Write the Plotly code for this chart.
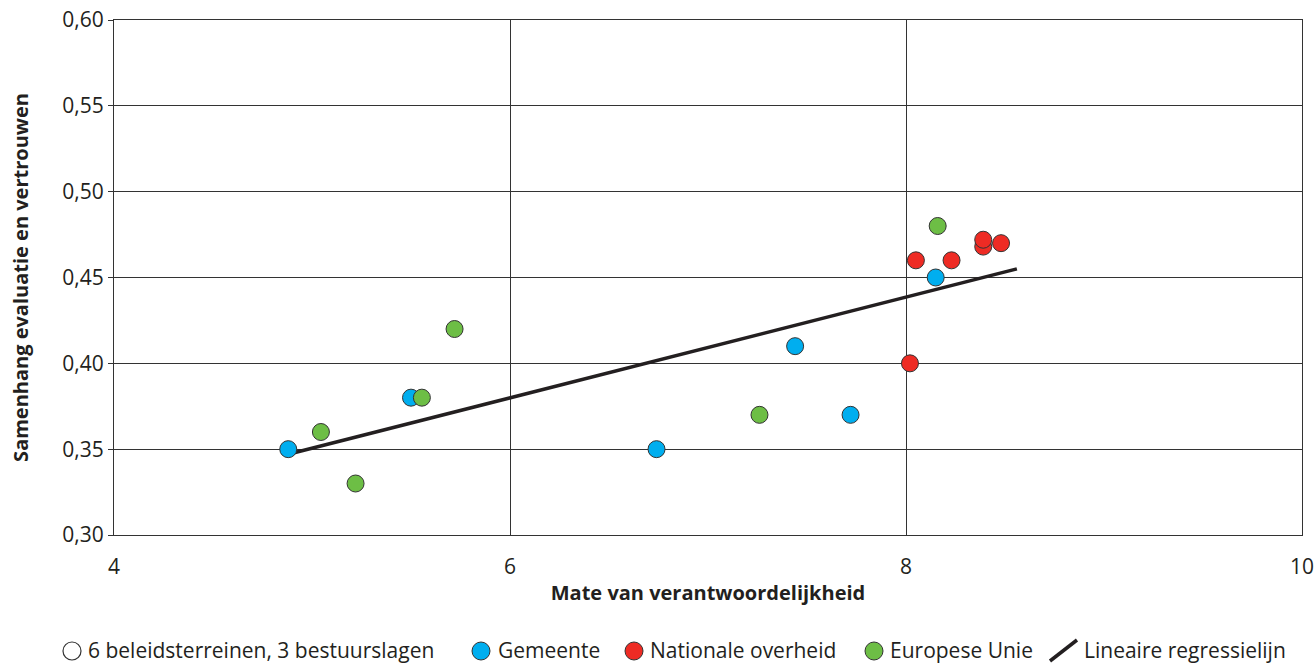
import plotly.graph_objects as go

# Data
gem_x = [4.88, 5.50, 6.74, 7.44, 7.72, 8.15]
gem_y = [0.35, 0.38, 0.35, 0.41, 0.37, 0.45]
nat_x = [8.02, 8.05, 8.23, 8.39, 8.39, 8.48]
nat_y = [0.40, 0.46, 0.46, 0.468, 0.472, 0.47]
eu_x = [5.045, 5.22, 5.555, 5.72, 7.26, 8.16]
eu_y = [0.36, 0.33, 0.38, 0.42, 0.37, 0.48]
reg_x = [4.88, 8.56]
reg_y = [0.347, 0.455]

x_ticks = [4, 6, 8, 10]
y_ticks = [0.30, 0.35, 0.40, 0.45, 0.50, 0.55, 0.60]
y_labels = ["0,30", "0,35", "0,40", "0,45", "0,50", "0,55", "0,60"]

legend_labels = ["6 beleidsterreinen, 3 bestuurslagen", "Gemeente", "Nationale overheid",
                 "Europese Unie", "Lineaire regressielijn"]

FONT = "Open Sans"
C_GEM, C_NAT, C_EU = "#00AEEF", "#EE2B24", "#6DBE45"
mk_line = dict(color="#333333", width=1)

fig = go.Figure()
fig.add_trace(go.Scatter(x=reg_x, y=reg_y, mode="lines", name=legend_labels[4],
                         line=dict(color="#231f20", width=3.5)))
fig.add_trace(go.Scatter(x=gem_x, y=gem_y, mode="markers", name=legend_labels[1],
                         marker=dict(size=17, color=C_GEM, line=mk_line)))
fig.add_trace(go.Scatter(x=nat_x, y=nat_y, mode="markers", name=legend_labels[2],
                         marker=dict(size=17, color=C_NAT, line=mk_line)))
fig.add_trace(go.Scatter(x=eu_x, y=eu_y, mode="markers", name=legend_labels[3],
                         marker=dict(size=17, color=C_EU, line=mk_line)))

# Manual legend (layout positions in plot-area paper coordinates)
PL, PR, PT, PB = 114, 1302, 20, 535


def px(xp):
    return (xp - PL) / (PR - PL)


def py(yp):
    return (PB - yp) / (PB - PT)


LEG_Y = 650
sym_items = [(72, None), (481, C_GEM), (634, C_NAT), (874, C_EU)]
text_x = [86, 496, 648, 888, 1082]
for (cx, col) in sym_items:
    fig.add_shape(type="circle", xref="paper", yref="paper", xsizemode="pixel", ysizemode="pixel",
                  xanchor=px(cx), yanchor=py(LEG_Y + 1), x0=-9, x1=9, y0=-9, y1=9,
                  fillcolor=col if col else "white",
                  line=dict(color="#333333", width=1.2 if col is None else 1))
fig.add_shape(type="line", xref="paper", yref="paper", x0=px(1050), y0=py(661), x1=px(1077), y1=py(640),
              line=dict(color="#231f20", width=3.5))
for tx, lab in zip(text_x, legend_labels):
    fig.add_annotation(x=px(tx), y=py(LEG_Y), xref="paper", yref="paper", text=lab, showarrow=False,
                       xanchor="left", yanchor="middle", font=dict(size=21, family=FONT, color="#231f20"))

fig.update_layout(
    width=1316, height=664,
    margin=dict(l=114, r=14, t=20, b=129, autoexpand=False),
    paper_bgcolor="white", plot_bgcolor="white",
    font=dict(family=FONT, size=20, color="#231f20"),
    showlegend=False,
    xaxis=dict(range=[4, 10], tickvals=x_ticks, ticktext=[str(v) for v in x_ticks],
               showgrid=True, gridcolor="#333333", gridwidth=1, zeroline=False,
               showline=True, linecolor="#333333", linewidth=1, mirror=True,
               ticks="", ticklabelstandoff=13, automargin=False, ticklabeloverflow="allow",
               tickfont=dict(size=21),
               title=dict(text="<b>Mate van verantwoordelijkheid</b>", font=dict(size=20), standoff=6)),
    yaxis=dict(range=[0.30, 0.60], tickvals=y_ticks, ticktext=y_labels,
               showgrid=True, gridcolor="#333333", gridwidth=1, zeroline=False,
               showline=True, linecolor="#333333", linewidth=1, mirror=True,
               ticks="outside", ticklen=5, tickcolor="#333333", automargin=False,
               ticklabeloverflow="allow",
               tickfont=dict(size=21),
               title=dict(text="<b>Samenhang evaluatie en vertrouwen</b>", font=dict(size=20), standoff=28)),
)

fig.write_html("out.html", config={"displayModeBar": False},
               post_script="document.body.style.margin='0';document.body.style.overflow='hidden';")
